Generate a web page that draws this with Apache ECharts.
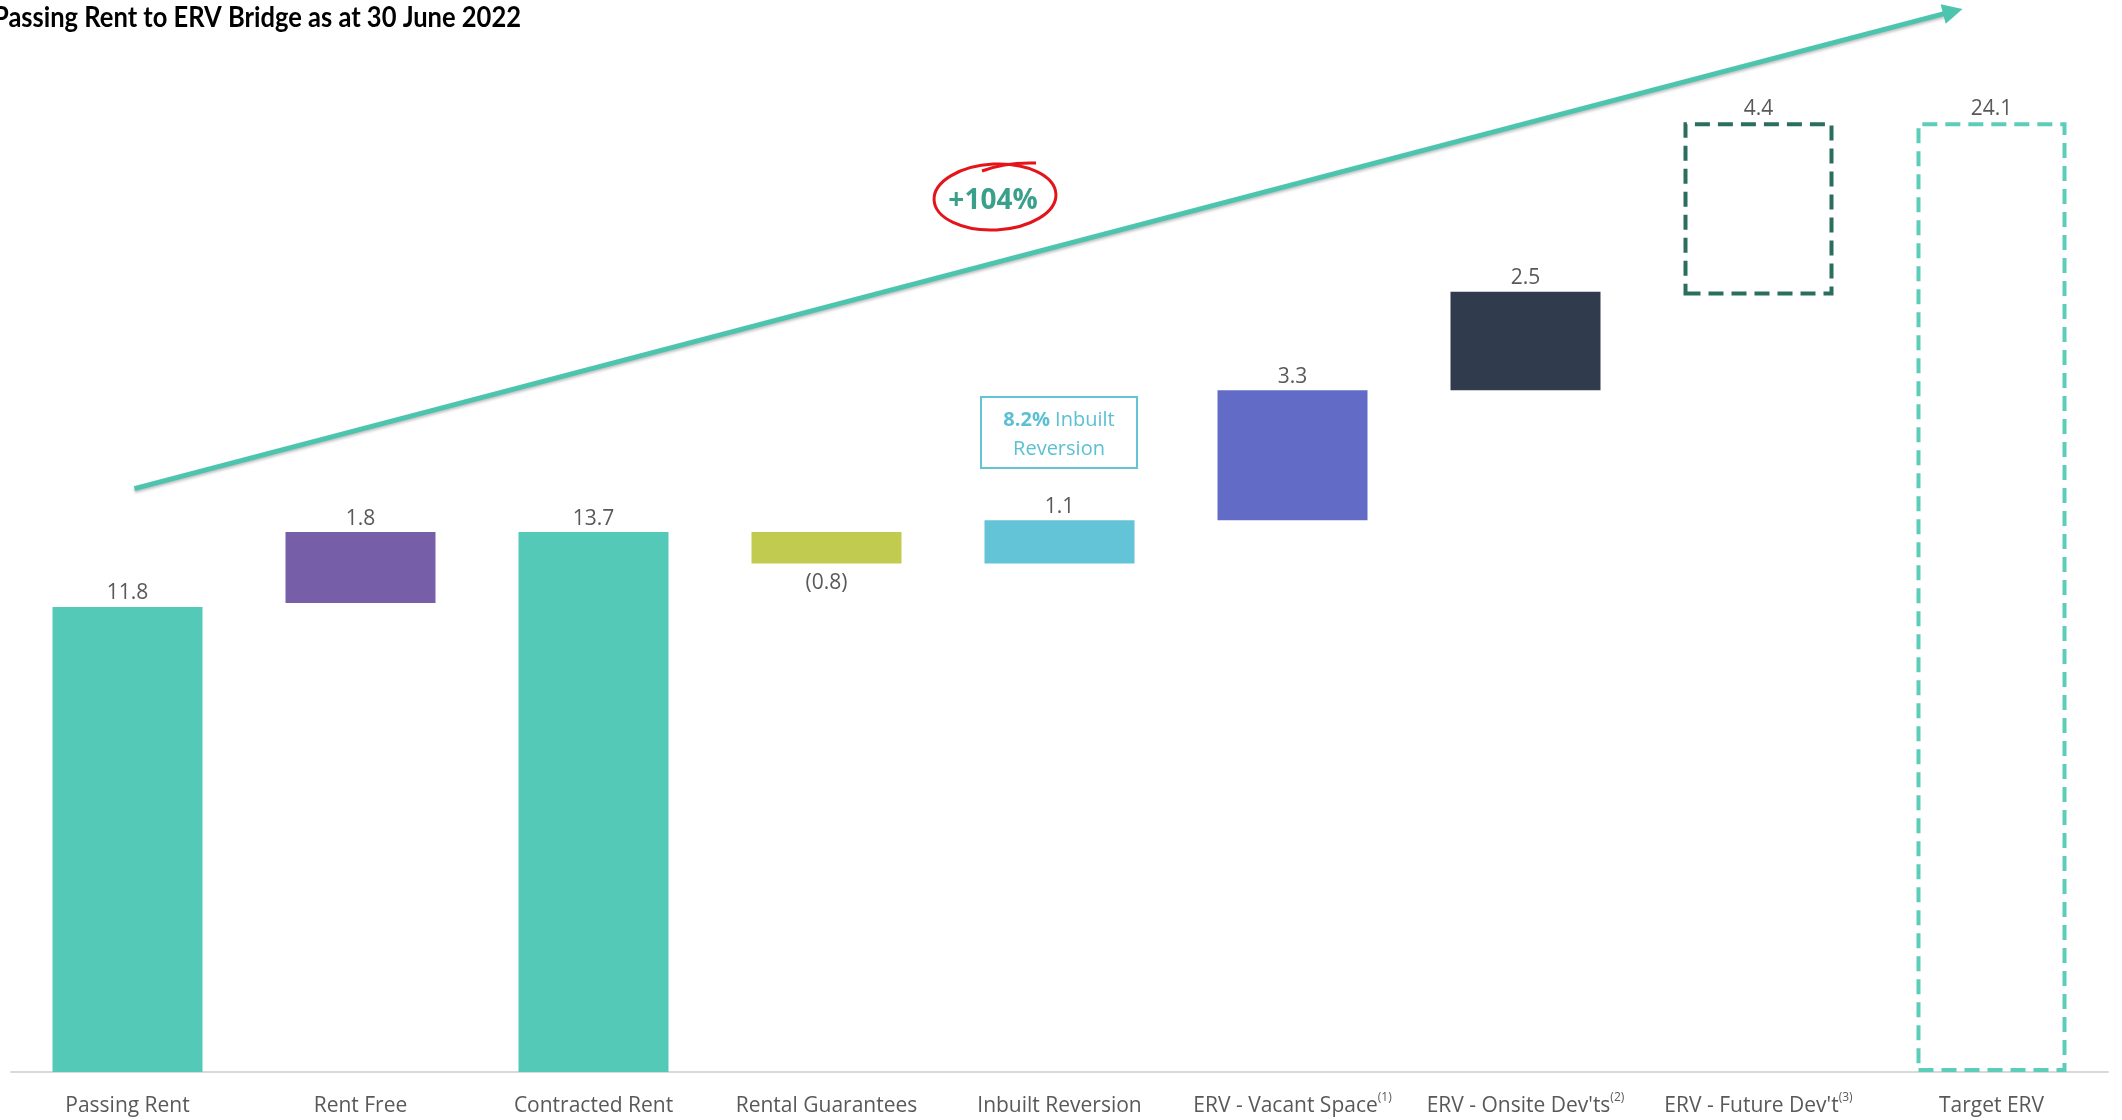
<!DOCTYPE html>
<html>
<head>
<meta charset="utf-8">
<script src="https://cdn.jsdelivr.net/npm/echarts@6/dist/echarts.min.js"></script>
<style>
  html, body { margin: 0; padding: 0; background: #ffffff; }
  #chart { width: 2122px; height: 1120px; }
</style>
</head>
<body>
<div id="chart"></div>
<script>
// Bridge steps, in order
const categories = ['Passing Rent', 'Rent Free', 'Contracted Rent', 'Rental Guarantees', 'Inbuilt Reversion',
  'ERV - Vacant Space', "ERV - Onsite Dev'ts", "ERV - Future Dev't", 'Target ERV'];
const footnotes = ['', '', '', '', '', '(1)', '(2)', '(3)', ''];
const values = [11.8, 1.8, 13.7, -0.8, 1.1, 3.3, 2.5, 4.4, 24.1];
const isTotal = [true, false, true, false, false, false, false, false, true];
const barColors = ['#54C9B7', '#775EA8', '#54C9B7', '#C1CB4F', '#62C4D6', '#626BC6', '#313B4E', '#2A6E5E', '#5CCDB8'];
const isDashed = [false, false, false, false, false, false, false, true, true];

// Growth arrow, as [category position, value]
const arrowStart = [0.03, 14.8];
const arrowEnd = [7.834, 26.91];
const titleText = 'Passing Rent to ERV Bridge as at 30 June 2022';
const growthText = '+104%';
const noteBold = '8.2%';
const noteRest = ' Inbuilt';
const noteLine2 = 'Reversion';

// Floating bases: a step that leads into a total ends exactly on that total
const bases = [];
const heights = [];
let running = 0;
values.forEach((v, i) => {
  if (isTotal[i]) { bases.push(0); heights.push(v); running = v; return; }
  let start = running, end = running + v;
  if (i + 1 < values.length && isTotal[i + 1]) { end = values[i + 1]; start = end - v; }
  bases.push(Math.min(start, end));
  heights.push(Math.abs(v));
  running = end;
});

const fmt = v => v < 0 ? '(' + Math.abs(v).toFixed(1) + ')' : v.toFixed(1);

const TEXT_GREY = '#595959';
const FONT = '"Open Sans", sans-serif';

// Title is set in a bold humanist face, narrowed to the heading width
const TITLE_FONT = 'bold 29px Lato, sans-serif';
const measureCtx = document.createElement('canvas').getContext('2d');
measureCtx.font = TITLE_FONT;
const titleScale = 528 / measureCtx.measureText(titleText).width;

const chart = echarts.init(document.getElementById('chart'), null, { renderer: 'canvas' });

chart.setOption({
  backgroundColor: '#ffffff',
  animation: false,
  grid: { left: 11, right: 14, top: 0, bottom: 48, containLabel: false },
  xAxis: [
    {
      type: 'category',
      data: categories,
      axisLine: { lineStyle: { color: '#D9D9D9', width: 2 } },
      axisTick: { show: false },
      axisLabel: {
        interval: 0,
        margin: 20,
        color: TEXT_GREY,
        fontSize: 21,
        fontFamily: FONT,
        formatter: (name, idx) => footnotes[idx] ? '{t|' + name + '}{s|' + footnotes[idx] + '}' : '{t|' + name + '}',
        rich: {
          t: { fontSize: 21, color: TEXT_GREY, fontFamily: FONT, lineHeight: 28 },
          s: { fontSize: 12, color: TEXT_GREY, fontFamily: FONT, verticalAlign: 'top', lineHeight: 14 }
        }
      }
    },
    { type: 'value', min: -0.5, max: 8.5, show: false }
  ],
  yAxis: { type: 'value', min: 0, max: 27.2, show: false, splitLine: { show: false } },
  series: [
    {
      name: 'base',
      type: 'bar',
      stack: 'bridge',
      barWidth: 150,
      silent: true,
      itemStyle: { color: 'rgba(0,0,0,0)' },
      data: bases
    },
    {
      name: 'movement',
      type: 'bar',
      stack: 'bridge',
      barWidth: 150,
      label: {
        show: true,
        color: TEXT_GREY,
        fontSize: 21,
        fontFamily: FONT,
        formatter: p => fmt(values[p.dataIndex])
      },
      data: heights.map((h, i) => ({
        value: h,
        itemStyle: isDashed[i]
          ? { color: 'rgba(0,0,0,0)', borderColor: barColors[i], borderWidth: 4, borderType: [15, 8] }
          : { color: barColors[i] },
        label: values[i] < 0 ? { position: 'bottom', distance: 9 } : { position: 'top', distance: 3 }
      }))
    },
    {
      name: 'growth',
      type: 'line',
      xAxisIndex: 1,
      yAxisIndex: 0,
      clip: false,
      symbol: 'none',
      silent: true,
      lineStyle: { opacity: 0 },
      data: [arrowStart, arrowEnd],
      markLine: {
        silent: true,
        symbol: ['none', 'triangle'],
        symbolSize: 20,
        label: { show: false },
        lineStyle: {
          color: '#4CC4AE', width: 5, type: 'solid',
          shadowColor: 'rgba(0,0,0,0.25)', shadowBlur: 3, shadowOffsetY: 2
        },
        data: [[{ coord: arrowStart }, { coord: arrowEnd }]]
      }
    }
  ],
  graphic: [
    {
      type: 'text',
      x: -7, y: 3,
      scaleX: titleScale,
      style: { text: titleText, fill: '#000000', font: TITLE_FONT, align: 'left', verticalAlign: 'top' }
    },
    {
      type: 'ellipse',
      shape: { cx: 995, cy: 197, rx: 61, ry: 33 },
      rotation: 0.05,
      originX: 995, originY: 197,
      style: { fill: 'none', stroke: '#E3151B', lineWidth: 3 }
    },
    {
      type: 'bezierCurve',
      shape: { x1: 982, y1: 171, cpx1: 1005, cpy1: 162, x2: 1036, y2: 163 },
      style: { fill: 'none', stroke: '#E3151B', lineWidth: 3 }
    },
    {
      type: 'text',
      x: 993, y: 201,
      style: {
        text: growthText, fill: '#3A9F8B', fontSize: 28, fontWeight: 'bold', fontFamily: FONT,
        align: 'center', verticalAlign: 'middle'
      }
    },
    {
      type: 'rect',
      shape: { x: 981, y: 397, width: 156, height: 71 },
      style: { fill: 'none', stroke: '#62C4D6', lineWidth: 2 }
    },
    {
      type: 'text',
      x: 1059, y: 435,
      style: {
        text: '{b|' + noteBold + '}{n|' + noteRest + '}\n{n|' + noteLine2 + '}',
        align: 'center', verticalAlign: 'middle',
        rich: {
          b: { fill: '#5BC0D3', fontSize: 20, fontWeight: 'bold', fontFamily: FONT, lineHeight: 29 },
          n: { fill: '#5BC0D3', fontSize: 20, fontFamily: FONT, lineHeight: 29 }
        }
      }
    }
  ]
});
</script>
</body>
</html>
